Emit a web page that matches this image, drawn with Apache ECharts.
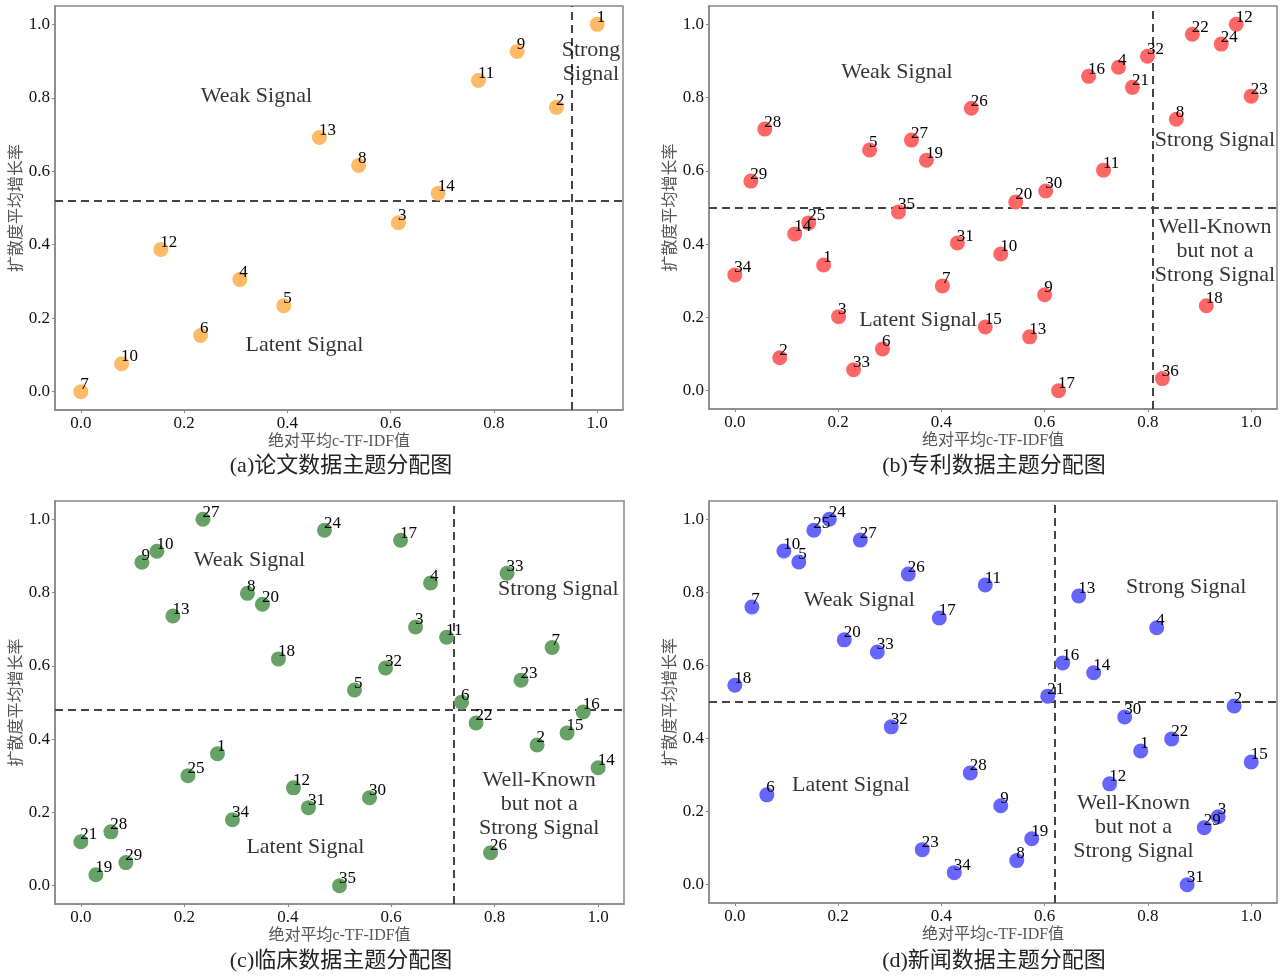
<!DOCTYPE html>
<html>
<head>
<meta charset="utf-8">
<title>主题分配图</title>
<script src="https://cdn.jsdelivr.net/npm/echarts@6/dist/echarts.min.js"></script>
<style>
    html, body { margin: 0; padding: 0; background: #fff; }
    #chart { width: 1284px; height: 977px; }
</style>
</head>
<body>
<div id="chart"></div>
<script>
// 坐标轴刻度
const tickVals = [0, 0.2, 0.4, 0.6, 0.8, 1.0];

// (a) 论文数据
const paperIds = [1, 2, 3, 4, 5, 6, 7, 8, 9, 10, 11, 12, 13, 14];
const paperX = [1.0, 0.921, 0.615, 0.308, 0.393, 0.232, 0.0, 0.538, 0.845, 0.079, 0.770, 0.155, 0.462, 0.692];
const paperY = [1.0, 0.774, 0.460, 0.305, 0.234, 0.153, 0.0, 0.616, 0.926, 0.076, 0.847, 0.387, 0.692, 0.540];
const paperCut = [0.952, 0.515];

// (b) 专利数据
const patentIds = [1, 2, 3, 4, 5, 6, 7, 8, 9, 10, 11, 12, 13, 14, 15, 16, 17, 18,
    19, 20, 21, 22, 23, 24, 25, 26, 27, 28, 29, 30, 31, 32, 33, 34, 35, 36];
const patentX = [0.172, 0.087, 0.201, 0.743, 0.261, 0.286, 0.402, 0.855, 0.600, 0.515, 0.714, 0.971,
    0.571, 0.116, 0.485, 0.685, 0.627, 0.913, 0.371, 0.544, 0.770, 0.886, 1.0, 0.942,
    0.143, 0.458, 0.342, 0.058, 0.031, 0.602, 0.431, 0.799, 0.230, 0.0, 0.317, 0.828];
const patentY = [0.343, 0.090, 0.202, 0.883, 0.657, 0.114, 0.286, 0.741, 0.262, 0.373, 0.602, 1.0,
    0.147, 0.428, 0.174, 0.858, 0.0, 0.232, 0.629, 0.515, 0.828, 0.973, 0.804, 0.946,
    0.458, 0.771, 0.684, 0.714, 0.572, 0.545, 0.403, 0.913, 0.057, 0.316, 0.488, 0.033];
const patentCut = [0.815, 0.496];

// (c) 临床数据
const clinicIds = [1, 2, 3, 4, 5, 6, 7, 8, 9, 10, 11, 12, 13, 14, 15, 16, 17, 18,
    19, 20, 21, 22, 23, 24, 25, 26, 27, 28, 29, 30, 31, 32, 33, 34, 35];
const clinicX = [0.264, 0.882, 0.647, 0.676, 0.529, 0.736, 0.911, 0.322, 0.118, 0.147, 0.707, 0.411,
    0.178, 1.0, 0.940, 0.971, 0.618, 0.382, 0.029, 0.351, 0.0, 0.764, 0.851, 0.471,
    0.207, 0.792, 0.236, 0.058, 0.087, 0.558, 0.440, 0.589, 0.824, 0.293, 0.500];
const clinicY = [0.360, 0.384, 0.706, 0.826, 0.534, 0.501, 0.650, 0.798, 0.883, 0.913, 0.678, 0.267,
    0.736, 0.322, 0.417, 0.474, 0.943, 0.619, 0.030, 0.768, 0.120, 0.444, 0.561, 0.970,
    0.300, 0.090, 1.0, 0.147, 0.063, 0.240, 0.213, 0.594, 0.853, 0.180, 0.0];
const clinicCut = [0.722, 0.482];

// (d) 新闻数据
const newsIds = [1, 2, 3, 4, 5, 6, 7, 8, 9, 10, 11, 12, 13, 14, 15, 16, 17,
    18, 19, 20, 21, 22, 23, 24, 25, 26, 27, 28, 29, 30, 31, 32, 33, 34];
const newsX = [0.786, 0.967, 0.936, 0.817, 0.124, 0.062, 0.033, 0.546, 0.515, 0.095, 0.485, 0.726,
    0.666, 0.695, 1.0, 0.635, 0.396, 0.0, 0.575, 0.212, 0.606, 0.846, 0.363, 0.183,
    0.153, 0.336, 0.243, 0.456, 0.909, 0.755, 0.876, 0.303, 0.276, 0.425];
const newsY = [0.366, 0.489, 0.186, 0.703, 0.883, 0.246, 0.760, 0.066, 0.216, 0.913, 0.820, 0.276,
    0.790, 0.580, 0.336, 0.607, 0.730, 0.546, 0.126, 0.670, 0.516, 0.399, 0.096, 1.0,
    0.970, 0.850, 0.943, 0.306, 0.156, 0.459, 0.0, 0.432, 0.637, 0.033];
const newsCut = [0.620, 0.504];

const captions = ['(a)论文数据主题分配图', '(b)专利数据主题分配图', '(c)临床数据主题分配图', '(d)新闻数据主题分配图'];
const xName = '绝对平均c-TF-IDF值';
const yName = '扩散度平均增长率';

const SERIF = '"Liberation Serif", "Times New Roman", "Noto Sans CJK SC", serif';

// 每个子图的位置和颜色
const panels = [
    {ids: paperIds, xs: paperX, ys: paperY, cut: paperCut, color: '#ffba66',
        grid: {left: 55, top: 6, width: 568, height: 404},
        caption: {x: 336, y: 450},
        notes: [
            [0.340, 0.805, 'Weak Signal'],
            [0.988, 0.897, 'Strong\nSignal'],
            [0.433, 0.127, 'Latent Signal']
        ]},
    {ids: patentIds, xs: patentX, ys: patentY, cut: patentCut, color: '#ff6666',
        grid: {left: 709, top: 6, width: 568, height: 403},
        caption: {x: 989, y: 450},
        notes: [
            [0.314, 0.868, 'Weak Signal'],
            [0.930, 0.685, 'Strong Signal'],
            [0.930, 0.380, 'Well-Known\nbut not a\nStrong Signal'],
            [0.355, 0.192, 'Latent Signal']
        ]},
    {ids: clinicIds, xs: clinicX, ys: clinicY, cut: clinicCut, color: '#66a266',
        grid: {left: 55, top: 501, width: 569, height: 403},
        caption: {x: 336, y: 945},
        notes: [
            [0.326, 0.888, 'Weak Signal'],
            [0.923, 0.809, 'Strong Signal'],
            [0.886, 0.223, 'Well-Known\nbut not a\nStrong Signal'],
            [0.434, 0.104, 'Latent Signal']
        ]},
    {ids: newsIds, xs: newsX, ys: newsY, cut: newsCut, color: '#6666ff',
        grid: {left: 709, top: 501, width: 568, height: 402},
        caption: {x: 989, y: 945},
        notes: [
            [0.241, 0.779, 'Weak Signal'],
            [0.874, 0.814, 'Strong Signal'],
            [0.772, 0.156, 'Well-Known\nbut not a\nStrong Signal'],
            [0.225, 0.273, 'Latent Signal']
        ]}
];

// 入口
window.onload = function () {
    let chart = echarts.init(document.getElementById('chart'), null, {renderer: 'canvas'});
    chart.setOption(buildOption());
};

function axisCommon(name, gap) {
    return {
        type: 'value',
        min: -0.05,
        max: 1.05,
        name: name,
        nameLocation: 'middle',
        nameGap: gap,
        nameTextStyle: {fontFamily: SERIF, fontSize: 16, color: '#555'},
        axisLine: {show: true, onZero: false, lineStyle: {color: '#888', width: 1.5}},
        axisTick: {show: true, inside: false, length: 3, customValues: tickVals,
            lineStyle: {color: '#888'}},
        axisLabel: {customValues: tickVals, fontFamily: SERIF, fontSize: 17, color: '#111',
            margin: 5, formatter: v => v.toFixed(1)},
        splitLine: {show: false}
    };
}

function buildOption() {
    let grids = [], xAxes = [], yAxes = [], series = [], titles = [];

    panels.forEach(function (p, i) {
        grids.push(Object.assign({show: true, borderColor: '#888', borderWidth: 1.5,
            backgroundColor: '#fff'}, p.grid));
        xAxes.push(Object.assign(axisCommon(xName, 24), {gridIndex: i}));
        yAxes.push(Object.assign(axisCommon(yName, 30), {gridIndex: i}));

        titles.push({
            text: captions[i],
            left: p.caption.x,
            top: p.caption.y,
            textAlign: 'center',
            textStyle: {fontFamily: SERIF, fontSize: 22, fontWeight: 'normal', color: '#222'}
        });

        // 散点
        series.push({
            type: 'scatter',
            xAxisIndex: i,
            yAxisIndex: i,
            symbolSize: 15,
            itemStyle: {color: p.color, opacity: 1},
            data: p.ids.map((id, k) => [p.xs[k], p.ys[k], id]),
            label: {
                show: true,
                position: [7, 9],
                align: 'left',
                verticalAlign: 'bottom',
                formatter: d => String(d.value[2]),
                fontFamily: SERIF,
                fontSize: 17,
                color: '#000'
            },
            z: 3,
            markLine: {
                silent: true,
                symbol: 'none',
                label: {show: false},
                lineStyle: {color: '#444', width: 2, type: [8, 5]},
                data: [{xAxis: p.cut[0]}, {yAxis: p.cut[1]}],
                z: 2
            }
        });

        // 象限文字
        series.push({
            type: 'scatter',
            xAxisIndex: i,
            yAxisIndex: i,
            symbolSize: 0,
            silent: true,
            data: p.notes,
            label: {
                show: true,
                position: 'inside',
                formatter: d => d.value[2],
                fontFamily: SERIF,
                fontSize: 22,
                lineHeight: 24,
                color: '#000'
            },
            z: 4
        });
    });

    let option = {
        backgroundColor: '#fff',
        animation: false,
        title: titles,
        grid: grids,
        xAxis: xAxes,
        yAxis: yAxes,
        series: series
    };
    return option;
}
</script>
</body>
</html>
